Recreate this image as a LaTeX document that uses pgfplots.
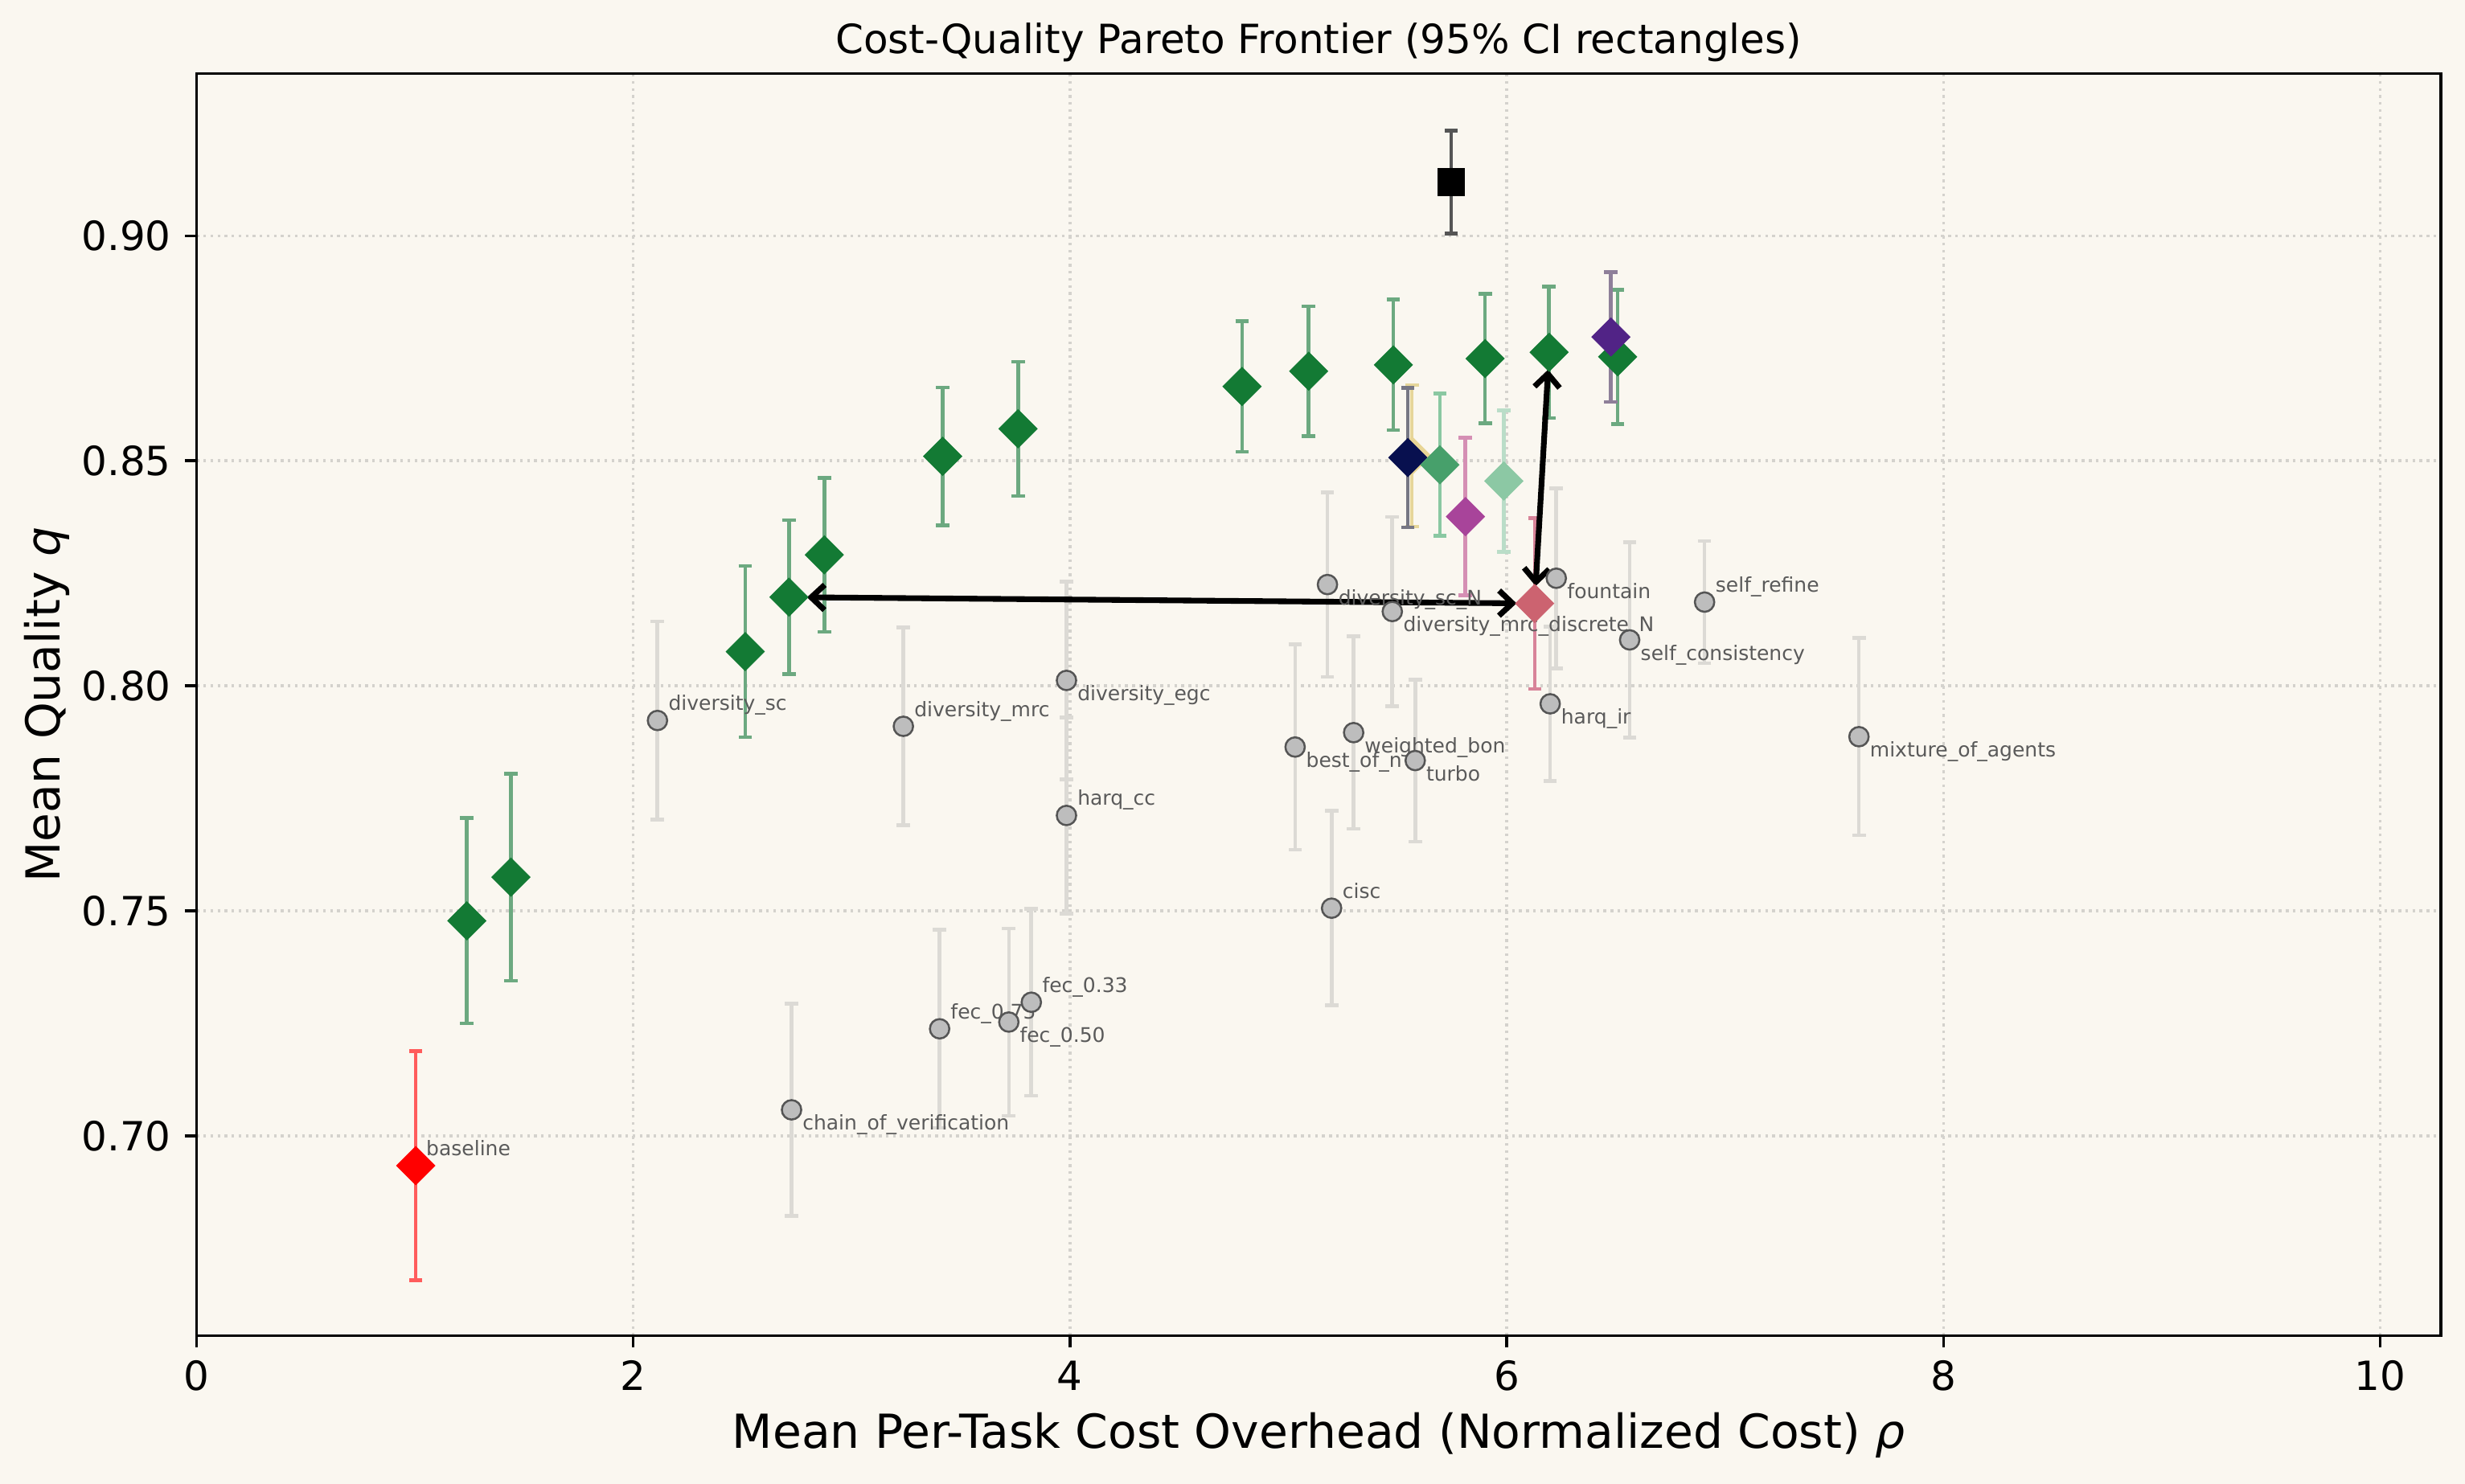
\documentclass[border=0pt]{standalone}
\usepackage{fontspec}
\setmainfont{DejaVu Sans}
\usepackage{pgfplots}
\pgfplotsset{compat=1.18}
\usetikzlibrary{arrows.meta}

\definecolor{bgc}{HTML}{FAF7F0}
\definecolor{gridc}{HTML}{D4D2CD}
\definecolor{front}{HTML}{137A34}
\definecolor{fronterr}{HTML}{6CA980}
\definecolor{ptfill}{HTML}{BDBDBD}
\definecolor{ptedge}{HTML}{555555}
\definecolor{pterr}{HTML}{DCDAD5}
\definecolor{lbl}{HTML}{5A5A5A}
\definecolor{basered}{HTML}{FF0000}
\definecolor{baseerr}{HTML}{FF5C5C}
\definecolor{blkerr}{HTML}{555555}
\definecolor{navy}{HTML}{08104F}
\definecolor{navyerr}{HTML}{777784}
\definecolor{tan}{HTML}{E8D595}
\definecolor{tanerr}{HTML}{E6D69A}
\definecolor{midgreen}{HTML}{47A06B}
\definecolor{midgreenerr}{HTML}{8AC8A2}
\definecolor{magenta}{HTML}{A8449A}
\definecolor{magentaerr}{HTML}{D58FB4}
\definecolor{lightgreen}{HTML}{8CC8A4}
\definecolor{lightgreenerr}{HTML}{BADDC8}
\definecolor{pinkd}{HTML}{CC6370}
\definecolor{pinkerr}{HTML}{D88499}
\definecolor{purp}{HTML}{512386}
\definecolor{purperr}{HTML}{8E7F99}

\pgfplotsset{
  errs/.style={
    error bars/y dir=both, error bars/y explicit,
    error bars/error mark=|,
    error bars/error bar style={#1, line width=1.1pt},
    error bars/error mark options={#1, line width=1.1pt, mark size=2pt}},
  dmd/.style={only marks, mark=square*, mark size=4pt,
    mark options={rotate=45, fill=#1, draw=#1, line width=0.3pt}},
  label nodes/.style={nodes near coords, point meta=explicit symbolic,
    nodes near coords style={anchor=base west, inner sep=0pt, xshift=3pt,
      yshift=#1, font=\fontsize{6}{7}\selectfont, text=lbl}},
}

\begin{document}
\begin{tikzpicture}
\path[use as bounding box, fill=bgc] (-58.66pt,-44.24pt) rectangle (677.18pt,398.8pt);
\begin{axis}[
  at={(0pt,0pt)}, anchor=south west,
  scale only axis, width=669.98pt, height=376.8pt,
  xmin=0, xmax=10.278, ymin=0.6556, ymax=0.9360,
  axis background/.style={fill=bgc},
  axis line style={line width=0.8pt, black},
  every tick/.style={line width=0.8pt, black},
  tick align=outside, major tick length=3.5pt, tick pos=left,
  xtick={0,2,4,6,8,10},
  ytick={0.70,0.75,0.80,0.85,0.90},
  yticklabels={0.70,0.75,0.80,0.85,0.90},
  /pgf/number format/assume math mode=true,
  ticklabel style={font=\fontsize{12}{14}\selectfont},
  xticklabel style={anchor=base, inner sep=0pt, yshift=-12.8pt},
  yticklabel style={anchor=base east, inner sep=0pt, xshift=-3.9pt, yshift=-4.4pt},
  grid=major,
  grid style={gridc, line width=0.8pt, dash pattern=on 0.8pt off 1.3pt},
  title={Cost-Quality Pareto Frontier (95\% CI rectangles)},
  every axis title/.style={at={(axis description cs:0.5,1.0159)}, anchor=base,
    font=\fontsize{12}{14}\selectfont},
  xlabel={Mean Per-Task Cost Overhead (Normalized Cost) \textit{ρ}},
  every axis x label/.style={at={(axis description cs:0.5,-0.0892)}, anchor=base,
    font=\fontsize{14}{17}\selectfont},
  ylabel={Mean Quality \textit{q}},
  every axis y label/.style={at={(axis description cs:-0.06075,0.5)}, rotate=90,
    anchor=base, font=\fontsize{14}{17}\selectfont},
]

% other methods, label above right
\addplot[only marks, mark=*, mark size=2.9pt,
  mark options={fill=ptfill, draw=ptedge, line width=0.6pt},
  errs=pterr, label nodes=3pt]
  table[x=x, y=y, y error=e, meta=lab] {
x y e lab
2.111 0.7923 0.0220 diversity\_sc
3.237 0.7910 0.0220 diversity\_mrc
3.984 0.7712 0.0218 harq\_cc
3.403 0.7238 0.0220 fec\_0.75
3.823 0.7297 0.0208 fec\_0.33
5.198 0.7506 0.0216 cisc
6.906 0.8186 0.0136 self\_refine
};

% other methods, label below right
\addplot[only marks, mark=*, mark size=2.9pt,
  mark options={fill=ptfill, draw=ptedge, line width=0.6pt},
  errs=pterr, label nodes=-6pt]
  table[x=x, y=y, y error=e, meta=lab] {
x y e lab
3.984 0.8012 0.0220 diversity\_egc
3.720 0.7253 0.0208 fec\_0.50
2.725 0.7058 0.0236 chain\_of\_verification
5.179 0.8225 0.0205 diversity\_sc\_N
5.476 0.8165 0.0210 diversity\_mrc\_discrete\_N
6.227 0.8239 0.0200 fountain
6.563 0.8102 0.0217 self\_consistency
6.199 0.7960 0.0171 harq\_ir
5.031 0.7864 0.0228 best\_of\_n
5.299 0.7896 0.0214 weighted\_bon
5.581 0.7834 0.0180 turbo
7.613 0.7887 0.0219 mixture\_of\_agents
};

% Pareto frontier
\addplot[dmd=front, errs=fronterr] table[x=x, y=y, y error=e] {
x y e
1.238 0.7478 0.0228
1.440 0.7575 0.0230
2.513 0.8076 0.0190
2.713 0.8197 0.0171
2.875 0.8291 0.0171
3.417 0.8510 0.0153
3.762 0.8571 0.0149
4.788 0.8665 0.0145
5.093 0.8699 0.0144
5.481 0.8713 0.0145
5.901 0.8727 0.0144
6.194 0.8741 0.0146
6.508 0.8731 0.0149
};

% baseline
\addplot[dmd=basered, errs=baseerr, label nodes=3pt]
  table[x=x, y=y, y error=e, meta=lab] {
x y e lab
1.004 0.6934 0.0254 baseline
};

% highlighted variants
\addplot[dmd=tan, errs=tanerr] table[x=x, y=y, y error=e] {
x y e
5.566 0.8511 0.0157
};
\addplot[dmd=navy, errs=navyerr] table[x=x, y=y, y error=e] {
x y e
5.547 0.8507 0.0155
};
\addplot[dmd=midgreen, errs=midgreenerr] table[x=x, y=y, y error=e] {
x y e
5.694 0.8491 0.0158
};
\addplot[dmd=magenta, errs=magentaerr] table[x=x, y=y, y error=e] {
x y e
5.811 0.8376 0.0175
};
\addplot[dmd=lightgreen, errs=lightgreenerr] table[x=x, y=y, y error=e] {
x y e
5.987 0.8455 0.0157
};
\addplot[dmd=purp, errs=purperr] table[x=x, y=y, y error=e] {
x y e
6.477 0.8775 0.0144
};
\addplot[dmd=pinkd, errs=pinkerr] table[x=x, y=y, y error=e] {
x y e
6.128 0.8183 0.0190
};

% oracle
\addplot[only marks, mark=square*, mark size=4pt,
  mark options={fill=black, draw=black, line width=0.3pt},
  errs=blkerr] table[x=x, y=y, y error=e] {
x y e
5.746 0.9119 0.0114
};

% links between the selected point and its frontier neighbours
\draw[line width=1.7pt, black,
  {Straight Barb[length=4pt,width=7.5pt]}-{Straight Barb[length=4pt,width=7.5pt]},
  shorten <=5.4pt, shorten >=5.4pt]
  (axis cs:6.128,0.8183) -- (axis cs:2.713,0.8197);
\draw[line width=1.7pt, black,
  {Straight Barb[length=4pt,width=7.5pt]}-{Straight Barb[length=4pt,width=7.5pt]},
  shorten <=5.2pt, shorten >=5.2pt]
  (axis cs:6.128,0.8183) -- (axis cs:6.194,0.8741);
\end{axis}
\end{tikzpicture}
\end{document}
